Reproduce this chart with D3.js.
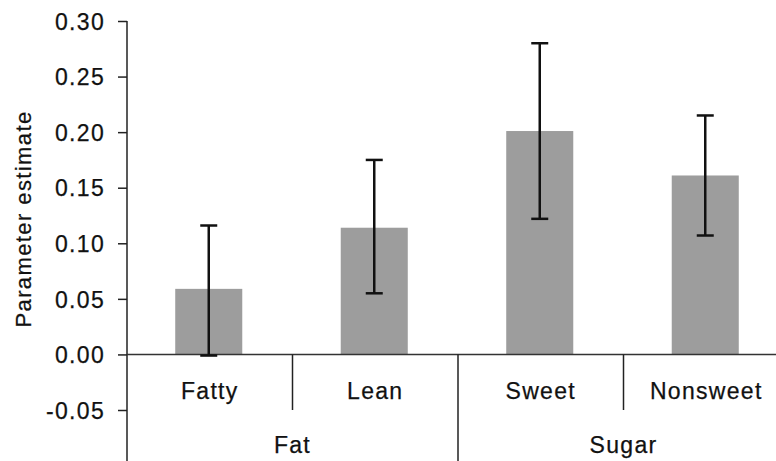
<!DOCTYPE html>
<html>
<head>
<meta charset="utf-8">
<script src="https://cdn.jsdelivr.net/npm/d3@7"></script>
<style>
  body { margin: 0; background: #fff; }
  text { font-family: "Liberation Sans", Arial, sans-serif; fill: #111; stroke: #111; stroke-width: 0.25px; }
</style>
</head>
<body>
<div id="chart"></div>
<script>
// data
var categories = ["Fatty", "Lean", "Sweet", "Nonsweet"];
var groups = ["Fat", "Fat", "Sugar", "Sugar"];
var groupNames = ["Fat", "Sugar"];
var estimates = [0.059, 0.114, 0.201, 0.161];
var errLow = [-0.001, 0.055, 0.122, 0.107];
var errHigh = [0.116, 0.175, 0.280, 0.215];
var yTicks = [-0.05, 0.00, 0.05, 0.10, 0.15, 0.20, 0.25, 0.30];

var svgWidth = 776;
var svgHeight = 461;

var svg = d3.select("#chart")
  .append("svg")
  .attr("width", svgWidth)
  .attr("height", svgHeight);

var axisX = 127;

// x scale runs past the right edge, the original is cropped there
var xScale = d3.scaleBand()
  .domain(categories)
  .range([axisX, 789])
  .paddingInner(0)
  .paddingOuter(0);

var yScale = d3.scaleLinear()
  .domain([-0.05, 0.30])
  .range([410, 21]);

var y0 = yScale(0);
var barW = xScale.bandwidth() * 0.405;

// bars
svg.selectAll("rect.bar")
  .data(categories)
  .enter()
  .append("rect")
  .attr("class", "bar")
  .attr("x", d => xScale(d) + xScale.bandwidth() / 2 - barW / 2 - 1)
  .attr("width", barW)
  .attr("y", (d, i) => yScale(estimates[i]))
  .attr("height", (d, i) => y0 - yScale(estimates[i]))
  .attr("fill", "#9d9d9d");

// y axis (plain hyphen for the minus, like the original)
var leftAxis = d3.axisLeft(yScale)
  .tickValues(yTicks)
  .tickSize(9)
  .tickPadding(13)
  .tickFormat(d => d3.format(".2f")(d).replace("\u2212", "-"));

var yAxis = svg.append("g")
  .attr("transform", `translate(${axisX}, 0)`)
  .call(leftAxis);

yAxis.select(".domain").remove();
yAxis.selectAll("line").attr("stroke", "#222").attr("stroke-width", 1.5);
yAxis.selectAll("text")
  .attr("fill", null)
  .style("font-size", "23px")
  .style("letter-spacing", "1.3px")
  .attr("dy", "0.36em");

// vertical axis line down to the bottom
svg.append("line")
  .attr("x1", axisX).attr("x2", axisX)
  .attr("y1", yScale(0.30)).attr("y2", svgHeight)
  .attr("stroke", "#222").attr("stroke-width", 1.5);

// zero line
svg.append("line")
  .attr("x1", axisX).attr("x2", svgWidth)
  .attr("y1", y0).attr("y2", y0)
  .attr("stroke", "#333").attr("stroke-width", 1.5);

// separators between categories
categories.forEach(function(c, i) {
  if (i === 0) return;
  var sx = xScale(c);
  var groupBreak = groups[i] !== groups[i - 1];
  svg.append("line")
    .attr("x1", sx).attr("x2", sx)
    .attr("y1", y0)
    .attr("y2", groupBreak ? svgHeight : yScale(-0.05))
    .attr("stroke", "#222").attr("stroke-width", 1.5);
});

// error bars
var capW = 17;
var errG = svg.append("g");
categories.forEach(function(c, i) {
  var cx = xScale(c) + xScale.bandwidth() / 2 - 1;
  errG.append("line")
    .attr("x1", cx).attr("x2", cx)
    .attr("y1", yScale(errHigh[i])).attr("y2", yScale(errLow[i]))
    .attr("stroke", "#111").attr("stroke-width", 2.5);
  [errHigh[i], errLow[i]].forEach(function(v) {
    errG.append("line")
      .attr("x1", cx - capW / 2).attr("x2", cx + capW / 2)
      .attr("y1", yScale(v)).attr("y2", yScale(v))
      .attr("stroke", "#111").attr("stroke-width", 2.5);
  });
});

// category labels
svg.selectAll("text.cat")
  .data(categories)
  .enter()
  .append("text")
  .attr("class", "cat")
  .attr("x", d => xScale(d) + xScale.bandwidth() / 2)
  .attr("y", 399)
  .attr("text-anchor", "middle")
  .style("font-size", "23px")
  .style("letter-spacing", "1.3px")
  .text(d => d);

// group labels
groupNames.forEach(function(g) {
  var members = categories.filter((c, i) => groups[i] === g);
  var gx0 = xScale(members[0]);
  var gx1 = xScale(members[members.length - 1]) + xScale.bandwidth();
  svg.append("text")
    .attr("x", (gx0 + gx1) / 2)
    .attr("y", 453)
    .attr("text-anchor", "middle")
    .style("font-size", "23px")
    .style("letter-spacing", "1.3px")
    .text(g);
});

// y axis title
svg.append("text")
  .attr("transform", "rotate(-90)")
  .attr("x", -219)
  .attr("y", 31)
  .attr("text-anchor", "middle")
  .style("font-size", "22px")
  .style("letter-spacing", "1.4px")
  .text("Parameter estimate");
</script>
</body>
</html>
